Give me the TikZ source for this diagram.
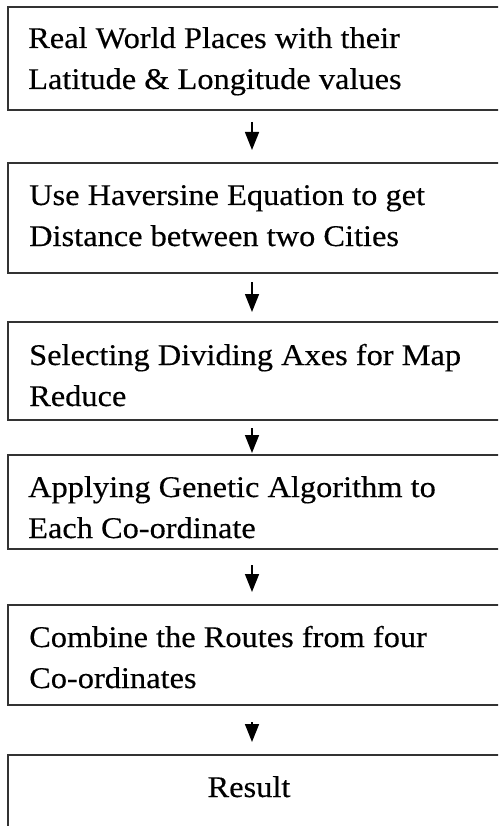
\documentclass[tikz,border=0pt]{standalone}
\usepackage{fontspec}
\setmainfont[FakeStretch=1.08,FakeBold=0.35]{Liberation Serif}
\usetikzlibrary{arrows.meta}
\newcommand{\twoln}[2]{\vtop{\hbox{#1}\hbox{#2}}}
\begin{document}
\begin{tikzpicture}[x=1pt,y=1pt,
  flowbox/.style={draw=black!80, line width=1.8pt, rectangle, inner sep=0pt, outer sep=0pt,
    minimum width=520pt, anchor=north west},
  boxtext/.style={anchor=base west, inner sep=0pt, font=\fontsize{30}{41}\selectfont},
  flowarrow/.style={line width=1.5pt, -{Triangle[width=14pt,length=18pt]}}]
\useasboundingbox (0,0) rectangle (498,-826);
\clip (0,0) rectangle (498,-826);
\node[flowbox, minimum height=103pt] (b1) at (8,-7) {};
\node[flowbox, minimum height=110pt] (b2) at (8,-163) {};
\node[flowbox, minimum height=98pt] (b3) at (8,-322) {};
\node[flowbox, minimum height=94pt] (b4) at (8,-455) {};
\node[flowbox, minimum height=100pt] (b5) at (8,-605) {};
\node[flowbox, minimum height=100pt] (b6) at (8,-755) {};
\node[boxtext] (t1) at (28,-48) {\twoln{Real World Places with their}{Latitude \& Longitude values}};
\node[boxtext] (t2) at (29,-205) {\twoln{Use Haversine Equation to get}{Distance between two Cities}};
\node[boxtext] (t3) at (29,-365) {\twoln{Selecting Dividing Axes for Map}{Reduce}};
\node[boxtext] (t4) at (28,-497) {\twoln{Applying Genetic Algorithm to}{Each Co-ordinate}};
\node[boxtext] (t5) at (29,-647) {\twoln{Combine the Routes from four}{Co-ordinates}};
\node[boxtext, anchor=base] (t6) at (249,-797) {Result};
\draw[flowarrow] ([xshift=-16pt,yshift=-12pt]b1.south) -- ([xshift=-16pt,yshift=13pt]b2.north);
\draw[flowarrow] ([xshift=-16pt,yshift=-9pt]b2.south) -- ([xshift=-16pt,yshift=10pt]b3.north);
\draw[flowarrow] ([xshift=-16pt,yshift=-8pt]b3.south) -- ([xshift=-16pt,yshift=2pt]b4.north);
\draw[flowarrow] ([xshift=-16pt,yshift=-16pt]b4.south) -- ([xshift=-16pt,yshift=13pt]b5.north);
\draw[flowarrow] ([xshift=-16pt,yshift=-17pt]b5.south) -- ([xshift=-16pt,yshift=13pt]b6.north);
\end{tikzpicture}
\end{document}
